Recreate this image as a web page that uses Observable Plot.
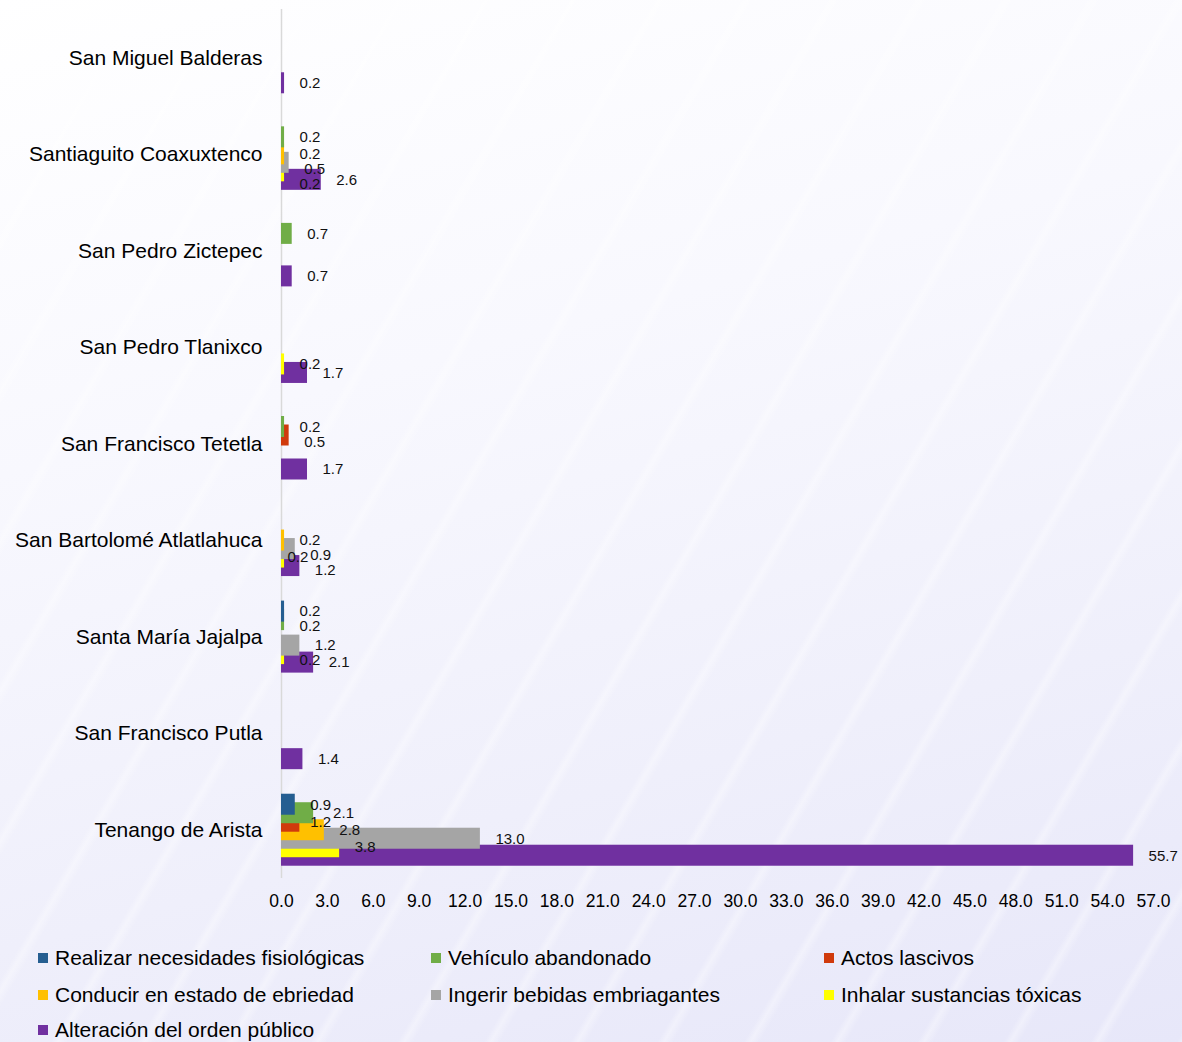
<!DOCTYPE html>
<html>
<head>
<meta charset="utf-8">
<script src="https://cdn.jsdelivr.net/npm/d3@7"></script>
<script src="https://cdn.jsdelivr.net/npm/@observablehq/plot@0.6"></script>
<style>
  html, body { margin: 0; padding: 0; }
  body {
    width: 1182px; height: 1042px; position: relative; overflow: hidden;
    font-family: "Liberation Sans", Arial, sans-serif;
    background:
      repeating-linear-gradient(120deg, rgba(255,255,255,0) 0px, rgba(255,255,255,0) 40px, rgba(255,255,255,0.35) 46px, rgba(255,255,255,0) 54px, rgba(255,255,255,0) 75px),
      linear-gradient(165deg, #ffffff 0%, #f8f8fe 35%, #efeffb 70%, #e7e7f9 100%);
  }
  #chart { position: absolute; left: 0; top: 0; }
  .leg { position: absolute; font-size: 21px; color: #000; white-space: nowrap; line-height: 24px; }
  .leg span.sw { position: absolute; width: 10px; height: 10px; top: 7px; }
</style>
</head>
<body>
<div id="chart"></div>
<div id="legend"></div>
<script>
const categories = [
  "San Miguel Balderas",
  "Santiaguito Coaxuxtenco",
  "San Pedro Zictepec",
  "San Pedro Tlanixco",
  "San Francisco Tetetla",
  "San Bartolomé Atlatlahuca",
  "Santa María Jajalpa",
  "San Francisco Putla",
  "Tenango de Arista"
];
const seriesNames = [
  "Realizar necesidades fisiológicas",
  "Vehículo abandonado",
  "Actos lascivos",
  "Conducir en estado de ebriedad",
  "Ingerir bebidas embriagantes",
  "Inhalar sustancias tóxicas",
  "Alteración del orden público"
];
const seriesColors = ["#255E91", "#70AD47", "#D03A0C", "#FFC000", "#A5A5A5", "#FFFF00", "#7030A0"];

const realizar   = [0,   0,   0,   0,   0,   0,   0.2, 0,   0.9];
const vehiculo   = [0,   0.2, 0.7, 0,   0.2, 0,   0.2, 0,   2.1];
const actos      = [0,   0,   0,   0,   0.5, 0,   0,   0,   1.2];
const conducir   = [0,   0.2, 0,   0,   0,   0.2, 0,   0,   2.8];
const ingerir    = [0,   0.5, 0,   0,   0,   0.9, 1.2, 0,   13.0];
const inhalar    = [0,   0.2, 0,   0.2, 0,   0.2, 0.2, 0,   3.8];
const alteracion = [0.2, 2.6, 0.7, 1.7, 1.7, 1.2, 2.1, 1.4, 55.7];

const xTicks = [0,3,6,9,12,15,18,21,24,27,30,33,36,39,42,45,48,51,54,57];

const seriesValues = [realizar, vehiculo, actos, conducir, ingerir, inhalar, alteracion];

const rows = seriesValues.map((vals, j) =>
  vals.map((v, i) => ({cat: categories[i], ci: i, value: v, series: seriesNames[j], j}))
      .filter(d => d.value > 0)
);

const width = 1182, height = 930;
const marginTop = 9, marginBottom = 52, marginLeft = 281, marginRight = 29;
const xDomain = [0, 57];
const band = (height - marginTop - marginBottom) / categories.length;
const barH = 21, step = 8.5, groupH = barH + step * 6;
const labelSize = 15, labelDx = 15, minGap = 15;

const xScale = Plot.scale({x: {domain: xDomain, range: [marginLeft, width - marginRight]}});

// place value labels next to bar ends, nudging them apart where they collide
function labelWidth(s) {
  let w = 0;
  for (const ch of s) w += (ch === ".") ? 0.278 : 0.556;
  return w * labelSize;
}
const labels = [];
categories.forEach((cat, ci) => {
  const placed = [];
  for (let j = 0; j < 7; j++) {
    const d = rows[j].find(r => r.ci === ci);
    if (!d) continue;
    const text = d.value.toFixed(1);
    const w = labelWidth(text);
    const base = xScale.apply(d.value);
    let dy = -groupH / 2 + step * j + barH / 2;
    let dx = labelDx;
    for (let k = 0; k < 20; k++) {
      const x0 = base + dx, x1 = x0 + w;
      const hit = placed.find(p => x0 < p.x1 + 1 && x1 > p.x0 - 1 && Math.abs(dy - p.dy) < minGap);
      if (!hit) break;
      const down = minGap - (dy - hit.dy);
      const right = (hit.x1 + 2) - x0;
      const leftX0 = hit.x0 - 2 - w;
      const left = leftX0 >= marginLeft + 3 ? x0 - leftX0 : Infinity;
      const best = Math.min(down, right, left);
      if (best === down) dy += down;
      else if (best === left) dx -= left;
      else dx += right;
    }
    const x0 = base + dx;
    placed.push({x0, x1: x0 + w, dy});
    labels.push({...d, text, dx, dy});
  }
});

const marks = [
  Plot.ruleX([0], {stroke: "#D9D9D9", strokeWidth: 1.5})
];
// later series first so earlier series sit on top, as in the original
for (let j = 6; j >= 0; j--) {
  const top = band / 2 - groupH / 2 + step * j;
  marks.push(Plot.barX(rows[j], {
    x1: 0, x2: "value", y: "cat",
    fill: seriesColors[j],
    insetTop: top,
    insetBottom: band - top - barH
  }));
}
for (const l of labels) {
  marks.push(Plot.text([l], {
    x: "value", y: "cat", text: "text",
    dx: l.dx, dy: l.dy, textAnchor: "start", fill: "#111", fontSize: labelSize
  }));
}
marks.push(Plot.axisY({tickSize: 0, tickPadding: 19, fontSize: 21, fill: "#000", label: null}));
marks.push(Plot.axisX({ticks: xTicks, tickFormat: d => d.toFixed(1), tickSize: 0, tickPadding: 16, fontSize: 17.5, fill: "#000", label: null}));

const chart = Plot.plot({
  width, height, marginTop, marginBottom, marginLeft, marginRight,
  style: {background: "transparent", fontFamily: "'Liberation Sans', Arial, sans-serif", color: "#000"},
  x: {domain: xDomain, axis: null},
  y: {domain: categories, padding: 0, round: false, axis: null},
  marks
});
document.getElementById("chart").appendChild(chart);

// legend
const legendPos = [
  [38, 946], [431, 946], [824, 946],
  [38, 983], [431, 983], [824, 983],
  [38, 1018]
];
const legend = document.getElementById("legend");
seriesNames.forEach((name, j) => {
  const [lx, ly] = legendPos[j];
  const div = document.createElement("div");
  div.className = "leg";
  div.style.left = lx + "px";
  div.style.top = ly + "px";
  div.style.paddingLeft = "17px";
  const sw = document.createElement("span");
  sw.className = "sw";
  sw.style.left = "0px";
  sw.style.background = seriesColors[j];
  div.appendChild(sw);
  div.appendChild(document.createTextNode(name));
  legend.appendChild(div);
});
</script>
</body>
</html>
